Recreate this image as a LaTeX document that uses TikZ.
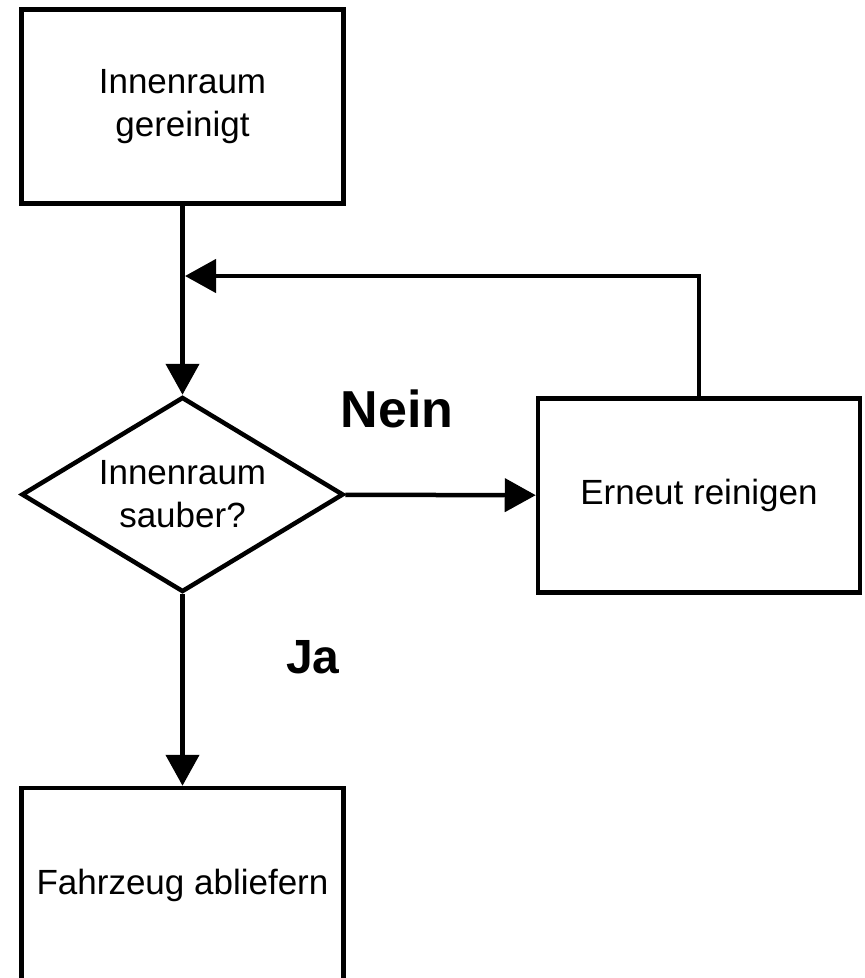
\documentclass[tikz,border=0pt]{standalone}
\usepackage{fontspec}
\setmainfont{Liberation Sans}
\usetikzlibrary{shapes.geometric,arrows.meta}

\begin{document}
\begin{tikzpicture}[x=1pt, y=-1pt, line width=4.5pt,
        every node/.style={font=\fontsize{35}{43}\selectfont, align=center},
        box/.style={draw, rectangle, minimum width=322pt, minimum height=194pt},
        choice/.style={draw, diamond, aspect=1.66, minimum width=322pt, minimum height=195pt, inner sep=1pt},
        answer/.style={font=\fontsize{52}{60}\selectfont\bfseries, anchor=base},
        flow/.style={-{Triangle[length=31pt, width=33pt]}}]
        \useasboundingbox (0,0) rectangle (865,978);

        \node[box] (R1) at (182.5,106.5) {Innenraum\\gereinigt};
        \node[choice] (D1) at (182.5,494.5) {Innenraum\\sauber?};
        \node[box] (R2) at (699,495.5) {Erneut reinigen};
        \node[box] (R3) at (182.5,885) {Fahrzeug abliefern};
        \coordinate (J1) at (185,276);

        \node[answer] (Nein) at (397,427) {Nein};
        \node[answer, font=\fontsize{48}{56}\selectfont\bfseries] (Ja) at (313,673) {Ja};

        \draw[flow] (R1) -- (D1);
        \draw[flow] (D1) -- (R2);
        \draw[flow] (D1) -- (R3);
        \draw[flow] (R2) |- (J1);
\end{tikzpicture}
\end{document}
